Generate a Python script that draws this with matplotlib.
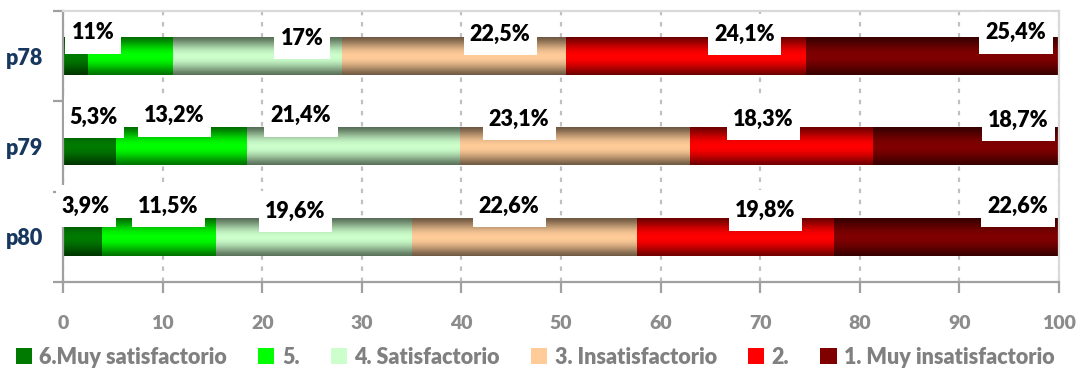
import numpy as np
import matplotlib
matplotlib.use("Agg")
import matplotlib.pyplot as plt
import matplotlib.path as mpath
from matplotlib.colors import to_rgb

# datos
preguntas = ["p78", "p79", "p80"]
categorias = ["6.Muy satisfactorio", "5.", "4. Satisfactorio",
              "3. Insatisfactorio", "2.", "1. Muy insatisfactorio"]
muy_satisf = [2.5, 5.3, 3.9]
satisf_5 = [8.5, 13.2, 11.5]
satisf_4 = [17.0, 21.4, 19.6]
insatisf_3 = [22.5, 23.1, 22.6]
insatisf_2 = [24.1, 18.3, 19.8]
muy_insatisf = [25.4, 18.7, 22.6]

etiquetas = [
    [None, "11%", "17%", "22,5%", "24,1%", "25,4%"],
    ["5,3%", "13,2%", "21,4%", "23,1%", "18,3%", "18,7%"],
    ["3,9%", "11,5%", "19,6%", "22,6%", "19,8%", "22,6%"],
]

# posiciones de las etiquetas (movidas a mano en el original)
etiq_x = [
    [None, 3.0, 24.0, 43.9, 68.4, 95.7],
    [3.1, 11.2, 23.9, 45.8, 70.3, 95.9],
    [2.3, 10.6, 23.3, 44.8, 70.5, 95.9],
]
etiq_dy = [
    [None, -0.26, -0.195, -0.24, -0.24, -0.26],
    [-0.32, -0.34, -0.34, -0.30, -0.30, -0.29],
    [-0.34, -0.34, -0.28, -0.34, -0.29, -0.34],
]

colores = ["#007a00", "#00ff00", "#ccffcc", "#ffcc99", "#ff0000", "#800000"]

plt.rcParams["font.family"] = ["Lato", "DejaVu Sans"]
plt.rcParams["font.weight"] = "bold"


def degradado(color, n=64):
    """barra con bordes oscuros arriba y abajo"""
    t = np.linspace(0, 1, n)
    f = 0.42 + 0.58 * np.sin(np.pi * (t * 0.95 + 0.02)) ** 1.4
    rgb = np.array(to_rgb(color))
    return (f[:, None] * rgb[None, :])[:, None, :]


def caja(x0, y0, width, height, mutation_size):
    px = 0.29 * mutation_size
    py = 0.48 * mutation_size
    verts = [(x0 - px, y0 - py), (x0 + width + px, y0 - py),
             (x0 + width + px, y0 + height + py), (x0 - px, y0 + height + py),
             (x0 - px, y0 - py)]
    return mpath.Path(verts, closed=True)


fig = plt.figure(figsize=(10.79, 3.74), dpi=100)
ax = fig.add_axes([0.0584, 0.246, 0.923, 0.7246])

series = [muy_satisf, satisf_5, satisf_4, insatisf_3, insatisf_2, muy_insatisf]
y = np.arange(len(preguntas))
izq = np.zeros(len(preguntas))
contenedores = []
for vals, col, nom in zip(series, colores, categorias):
    bc = ax.barh(y, vals, left=izq, height=0.42, color=col, label=nom, zorder=2)
    contenedores.append(bc)
    for p in bc.patches:
        x0, y0, w, h = p.get_x(), p.get_y(), p.get_width(), p.get_height()
        ax.imshow(degradado(col), extent=(x0, x0 + w, y0 + h, y0), origin="upper",
                  aspect="auto", interpolation="bilinear", zorder=2.1)
    izq = izq + np.array(vals)

ax.set_xlim(0, 100)
ax.set_ylim(2.5, -0.5)

# etiquetas de datos
for i in range(len(preguntas)):
    for j in range(len(categorias)):
        if etiquetas[i][j] is None:
            continue
        ax.text(etiq_x[i][j], y[i] + etiq_dy[i][j], etiquetas[i][j],
                ha="center", va="center", fontsize=15.5, fontweight="heavy",
                color="black", zorder=6, clip_on=False,
                bbox=dict(boxstyle=caja, fc="white", ec="none"))

# ejes y rejilla
ax.set_xticks(np.arange(0, 101, 10))
ax.xaxis.grid(True, color="#c0c0c0", linestyle=(0, (2, 3)), linewidth=1.6)
ax.set_axisbelow(True)
ax.tick_params(axis="x", colors="#a0a0a0", length=8, width=1.6, pad=16,
               labelsize=14, labelcolor="#8c8c8c")
for t in ax.get_xticklabels():
    t.set_fontweight("heavy")
ax.set_yticks(y)
ax.set_yticklabels(preguntas, fontsize=15.5, fontweight="heavy", color="#17375e")
ax.set_yticks([-0.5, 0.5, 1.5, 2.5], minor=True)
ax.tick_params(axis="y", which="major", length=0, pad=14)
ax.tick_params(axis="y", which="minor", length=7, width=1.6, colors="#a0a0a0")
for s in ["left", "bottom"]:
    ax.spines[s].set_color("#a0a0a0")
    ax.spines[s].set_linewidth(1.6)
for s in ["top", "right"]:
    ax.spines[s].set_color("#d9d9d9")
    ax.spines[s].set_linewidth(1.6)

leg = fig.legend(handles=contenedores, labels=categorias, loc="center",
                 bbox_to_anchor=(0.496, 0.045), ncol=6, frameon=False,
                 fontsize=15.5, handlelength=0.75, handleheight=0.75,
                 handletextpad=0.35, columnspacing=1.45)
for t in leg.get_texts():
    t.set_color("#808080")
    t.set_fontweight("heavy")

plt.savefig("out.png", dpi=100)
